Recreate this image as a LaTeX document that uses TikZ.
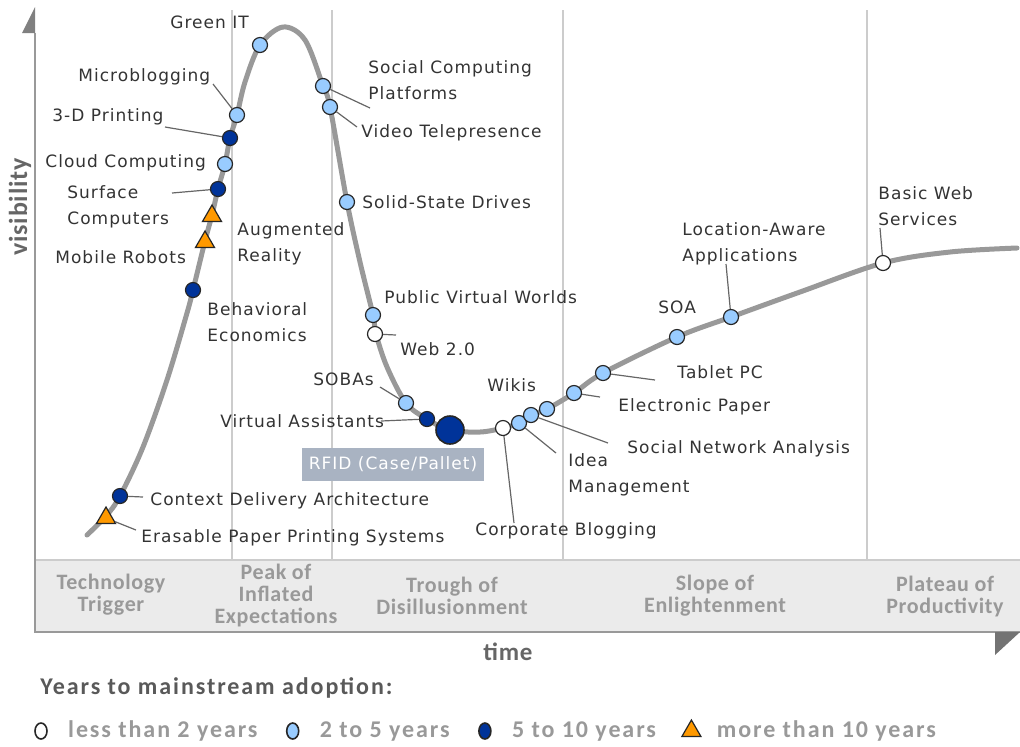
\documentclass[tikz,border=0pt]{standalone}
\usepackage{fontspec}
\usetikzlibrary{shapes.geometric, positioning}
\setmainfont{DejaVu Sans}
\newfontfamily\lblfont[LetterSpace=6]{DejaVu Sans}
\newfontfamily\phasefont[LetterSpace=3]{Carlito}
\newfontfamily\legfont[LetterSpace=8]{Carlito}
\definecolor{lightblue}{HTML}{99CCFF}
\definecolor{darkblue}{HTML}{003399}
\definecolor{amber}{HTML}{FF9900}
\definecolor{rfidgray}{HTML}{A9B3C2}
\definecolor{bandgray}{HTML}{EBEBEB}

\tikzset{
  dot/.style={circle, draw=black!85, line width=0.6pt, minimum size=7.5pt, inner sep=0pt},
  under2/.style={dot, fill=white},
  twofive/.style={dot, fill=lightblue},
  fiveten/.style={dot, fill=darkblue},
  over10/.style={regular polygon, regular polygon sides=3, draw=black!85, line width=0.6pt,
    fill=amber, minimum size=11pt, inner sep=0pt},
  lbl/.style={font=\lblfont\fontsize{8.5}{13}\selectfont, text=black!80, align=left,
    inner sep=0pt, anchor=west},
  leader/.style={draw=black!60, line width=0.6pt},
  phase/.style={font=\phasefont\bfseries\fontsize{11}{11}\selectfont, text=black!40, align=center},
  legtxt/.style={font=\legfont\bfseries\fontsize{12}{12}\selectfont, text=black!40, inner sep=0pt},
  legdot/.style={ellipse, minimum width=6pt, minimum height=8pt, inner sep=0pt, line width=0.8pt}
}

\begin{document}
\begin{tikzpicture}[x=0.5pt, y=-0.5pt]
  \useasboundingbox (0,0) rectangle (1020,746);

  \foreach \x in {232,332,563,867}
    \draw[black!20, line width=1pt] (\x,10) -- (\x,560);
  \fill[bandgray] (35,560) rectangle (1020,632);
  \draw[black!20, line width=0.6pt] (35,560) -- (1020,560);
  \draw[black!40, line width=1pt] (35,33) -- (35,632) -- (1020,632);
  \fill[black!50] (35,7) -- (35,33) -- (22,33) -- cycle;
  \fill[black!55] (995,632) -- (1020,632) -- (995,655) -- cycle;

  \node[rotate=90, font=\phasefont\bfseries\fontsize{13}{13}\selectfont, text=black!60] (yaxis) at (20,207) {visibility};
  \node[font=\phasefont\bfseries\fontsize{12.5}{12.5}\selectfont, text=black!60] (xaxis) at (508,652) {time};

  \node[phase] (trigger) at (111,595) {Technology\\Trigger};
  \node[phase] (peak) at (276,595) {Peak of\\Inflated\\Expectations};
  \node[phase] (trough) at (452,596) {Trough of\\Disillusionment};
  \node[phase] (slope) at (715,596) {Slope of\\Enlightenment};
  \node[phase] (plateau) at (945,596) {Plateau of\\Productivity};

  \draw[black!40, line width=2.5pt, line cap=round] plot[smooth, tension=0.55] coordinates {
    (87,535) (106,516) (120,496) (143,447) (167,380) (187,313) (193,290) (205,241)
    (212,215) (218,189) (225,164) (230,138) (237,115) (245,82) (260,45) (283,27)
    (305,40) (323,86) (330,107) (347,202) (360,262) (373,315) (376,334) (387,367)
    (406,403) (427,419) (450,430) (480,432) (503,428) (519,423) (531,415) (547,409)
    (574,393) (603,373) (677,337) (731,317) (800,292) (883,263) (950,252) (1017,248)};

  \node[twofive] (green) at (260,45) {};
  \node[twofive] (micro) at (237,115) {};
  \node[fiveten] (print) at (230,138) {};
  \node[twofive] (cloud) at (225,164) {};
  \node[fiveten] (surface) at (218,189) {};
  \node[over10] (augment) at (212,216) {};
  \node[over10] (robots) at (205,242) {};
  \node[fiveten] (behav) at (193,290) {};
  \node[fiveten] (context) at (120,496) {};
  \node[over10] (erasable) at (106,518) {};
  \node[twofive] (social) at (323,86) {};
  \node[twofive] (video) at (330,107) {};
  \node[twofive] (ssd) at (347,202) {};
  \node[twofive] (pvw) at (373,315) {};
  \node[under2] (web) at (375,334) {};
  \node[twofive] (sobas) at (406,403) {};
  \node[fiveten] (assist) at (427,419) {};
  \node[fiveten, minimum size=14pt, line width=0.8pt] (rfid) at (450,430) {};
  \node[under2] (corpblog) at (503,428) {};
  \node[twofive] (idea) at (519,423) {};
  \node[twofive] (sna) at (531,415) {};
  \node[twofive] (wikis) at (547,409) {};
  \node[twofive] (epaper) at (574,393) {};
  \node[twofive] (tablet) at (603,373) {};
  \node[twofive] (soa) at (677,337) {};
  \node[twofive] (location) at (731,317) {};
  \node[under2] (basicws) at (883,263) {};

  \node[lbl] (lgreen) at (170,22) {Green IT};
  \node[lbl] (lmicro) at (78,77) {Microblogging};
  \node[lbl] (lprint) at (52,117) {3-D Printing};
  \node[lbl] (lcloud) at (45,163) {Cloud Computing};
  \node[lbl] (lsurface) at (67,207) {Surface\\Computers};
  \node[lbl] (laugment) at (237,244) {Augmented\\Reality};
  \node[lbl] (lrobots) at (55,257) {Mobile Robots};
  \node[lbl] (lbehav) at (207,322) {Behavioral\\Economics};
  \node[lbl] (lcontext) at (150,501) {Context Delivery Architecture};
  \node[lbl] (lerasable) at (141,538) {Erasable Paper Printing Systems};
  \node[lbl] (lsocial) at (368,80) {Social Computing\\Platforms};
  \node[lbl] (lvideo) at (361,133) {Video Telepresence};
  \node[lbl] (lssd) at (362,202) {Solid-State Drives};
  \node[lbl] (lpvw) at (384,297) {Public Virtual Worlds};
  \node[lbl] (lweb) at (400,349) {Web 2.0};
  \node[lbl] (lsobas) at (313,379) {SOBAs};
  \node[lbl] (lassist) at (220,421) {Virtual Assistants};
  \node[lbl, anchor=center, fill=rfidgray, text=white, minimum width=91pt, minimum height=16.5pt] (lrfid) at (393,464) {RFID (Case/Pallet)};
  \node[lbl] (lcorpblog) at (475,531) {Corporate Blogging};
  \node[lbl] (lwikis) at (487,385) {Wikis};
  \node[lbl] (lidea) at (568,475) {Idea\\Management};
  \node[lbl] (lsna) at (627,449) {Social Network Analysis};
  \node[lbl] (lepaper) at (618,407) {Electronic Paper};
  \node[lbl] (ltablet) at (677,372) {Tablet PC};
  \node[lbl] (lsoa) at (658,307) {SOA};
  \node[lbl] (llocation) at (682,244) {Location-Aware\\Applications};
  \node[lbl] (lbasicws) at (878,206) {Basic Web\\Services};

  \foreach \n/\x/\y in {micro/213/84, print/165/127, surface/172/193, context/143/497,
      erasable/136/530, social/370/108, video/357/127, web/396/335, sobas/380/387,
      assist/381/421, corpblog/514/523, idea/556/453, sna/608/443, epaper/600/397,
      tablet/655/380, location/726/264, basicws/880/228}
    \coordinate (\n-tip) at (\x,\y);
  \foreach \n in {micro, print, surface, context, erasable, social, video, web, sobas,
      assist, corpblog, idea, sna, epaper, tablet, location, basicws}
    \draw[leader] (\n-tip) -- (\n);

  \node[font=\legfont\bfseries\fontsize{12}{12}\selectfont, text=black!65, anchor=west, inner sep=0pt] (legtitle) at (40,688) {Years to mainstream adoption:};
  \node[under2, legdot] (leg1) at (41,731) {};
  \node[legtxt, right=10pt of leg1] (legt1) {less than 2 years};
  \node[twofive, legdot, right=14pt of legt1] (leg2) {};
  \node[legtxt, right=10pt of leg2] (legt2) {2 to 5 years};
  \node[fiveten, legdot, right=14pt of legt2] (leg3) {};
  \node[legtxt, right=10pt of leg3] (legt3) {5 to 10 years};
  \node[over10, right=14pt of legt3] (leg4) {};
  \node[legtxt, right=9pt of leg4] (legt4) {more than 10 years};
\end{tikzpicture}
\end{document}
